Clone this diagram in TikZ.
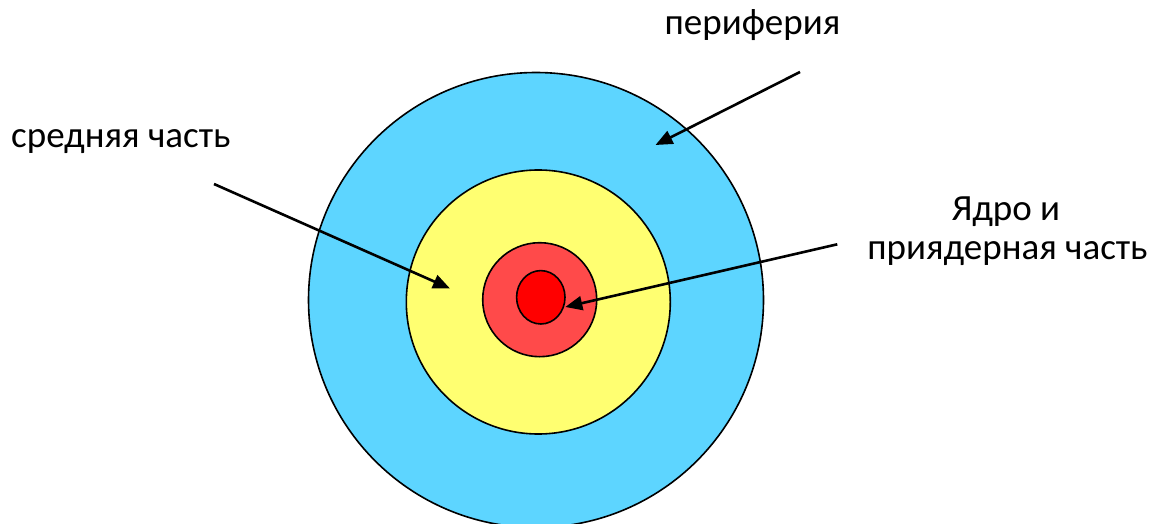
\documentclass[tikz,border=0pt]{standalone}
\usepackage{fontspec}
\setmainfont{Carlito}
\usetikzlibrary{arrows.meta,shapes.geometric}
\definecolor{peri}{RGB}{93,213,255}
\definecolor{mid}{RGB}{255,255,113}
\definecolor{ring}{RGB}{255,74,74}
\definecolor{core}{RGB}{255,0,0}
\tikzset{
  zone/.style={draw=black, line width=1.6pt, inner sep=0pt, outer sep=0pt},
  pointer/.style={line width=2.6pt, -{Triangle[length=17pt,width=14pt]}},
  lbl/.style={font=\fontsize{37}{44}\selectfont, inner sep=0pt, anchor=base}
}
\begin{document}
\begin{tikzpicture}[x=1pt,y=-1pt]
\useasboundingbox (0,0) rectangle (1157,524);
\clip (0,0) rectangle (1157,524);
\node[zone, circle, fill=peri, minimum size=455pt] (outer) at (536,300) {};
\node[zone, circle, fill=mid, minimum size=264pt] (middle) at (538.3,302) {};
\node[zone, circle, fill=ring, minimum size=114pt] (nearcore) at (539.7,299.7) {};
\node[zone, ellipse, fill=core, minimum width=48.4pt, minimum height=53.4pt] (core) at (540.8,297.3) {};
\node[lbl] (tperi) at (752.5,35) {периферия};
\node[lbl, anchor=base west] (tmid) at (11,148) {средняя часть};
\node[lbl] (tcore1) at (1006,220) {Ядро и};
\node[lbl] (tcore2) at (1007.5,259) {приядерная часть};
\coordinate (speri) at (800,72);
\coordinate (eperi) at (655.5,145);
\coordinate (smid) at (214,184);
\coordinate (emid) at (450,288.5);
\coordinate (score) at (837.3,244.3);
\coordinate (ecore) at (565.3,307);
\draw[pointer] (speri) -- (eperi);
\draw[pointer] (smid) -- (emid);
\draw[pointer] (score) -- (ecore);
\end{tikzpicture}
\end{document}
